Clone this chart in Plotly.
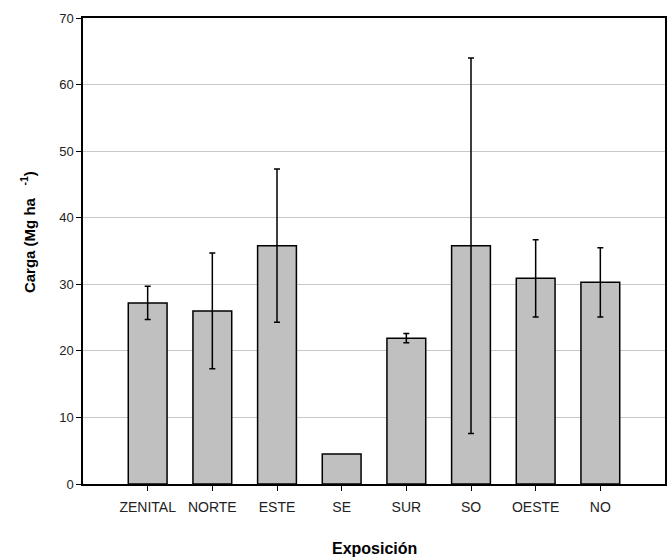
import plotly.graph_objects as go

categories = ["ZENITAL", "NORTE", "ESTE", "SE", "SUR", "SO", "OESTE", "NO"]
carga = [27.2, 26.0, 35.8, 4.5, 21.9, 35.8, 30.9, 30.3]
error = [2.5, 8.7, 11.5, None, 0.7, 28.2, 5.8, 5.2]
yticks = [0, 10, 20, 30, 40, 50, 60, 70]

font_family = "Liberation Sans, Arial, sans-serif"

xpos = list(range(len(categories)))
fig = go.Figure()
fig.add_trace(go.Bar(
    x=xpos,
    y=carga,
    width=0.6,
    marker=dict(color="#c0c0c0", line=dict(color="black", width=1.5)),
    showlegend=False,
    hoverinfo="skip",
))

ex = [x for x, e in zip(xpos, error) if e is not None]
ey = [y for y, e in zip(carga, error) if e is not None]
ee = [e for e in error if e is not None]
fig.add_trace(go.Scatter(
    x=ex, y=ey, mode="markers",
    marker=dict(size=1, color="rgba(0,0,0,0)"),
    error_y=dict(type="data", array=ee, visible=True,
                 color="black", thickness=1.5, width=3),
    showlegend=False,
))

fig.update_layout(
    width=669, height=558,
    margin=dict(l=83, r=2, t=18, b=74),
    paper_bgcolor="white", plot_bgcolor="white",
    font=dict(family=font_family, size=12, color="#222"),
    xaxis=dict(
        range=[-1, 8],
        tickmode="array",
        tickvals=xpos,
        ticktext=categories,
        showgrid=False,
        showline=True, linecolor="black", linewidth=1.5, mirror=True,
        ticks="outside", ticklen=5, tickcolor="black", tickwidth=1,
        tickfont=dict(size=14, color="#222"),
        ticklabelstandoff=4,
        zeroline=False,
    ),
    yaxis=dict(
        range=[0, 70],
        tickmode="array",
        tickvals=yticks,
        showgrid=True, gridcolor="#c8c8c8", gridwidth=1,
        showline=True, linecolor="black", linewidth=1.5, mirror=True,
        ticks="outside", ticklen=5, tickcolor="black", tickwidth=1,
        tickfont=dict(size=13, color="#222"),
        zeroline=False,
    ),
    annotations=[
        dict(text="<b>Exposición</b>", x=0.5, y=-0.115, xref="paper", yref="paper",
             xanchor="center", yanchor="top", showarrow=False,
             font=dict(size=16, color="black", family=font_family)),
        dict(text="<b>Carga (Mg ha&nbsp;&nbsp;&nbsp;<sup>-1</sup>)</b>", x=-0.095, y=0.54,
             xref="paper", yref="paper", textangle=-90,
             xanchor="center", yanchor="middle", showarrow=False,
             font=dict(size=15, color="black", family=font_family)),
    ],
)

fig.write_html("out.html")
